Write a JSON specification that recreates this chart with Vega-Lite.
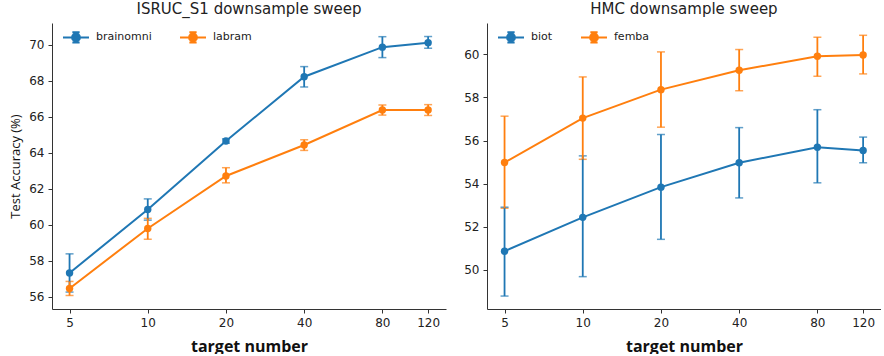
{
  "$schema": "https://vega.github.io/schema/vega-lite/v6.json",
  "background": "white",
  "padding": {"left": 9, "top": 2, "right": 0, "bottom": 0},
  "datasets": {
    "isruc": [
      {"model": "brainomni", "target": 5, "acc": 57.33, "lo": 56.27, "hi": 58.39},
      {"model": "brainomni", "target": 10, "acc": 60.85, "lo": 60.26, "hi": 61.44},
      {"model": "brainomni", "target": 20, "acc": 64.65, "lo": 64.53, "hi": 64.77},
      {"model": "brainomni", "target": 40, "acc": 68.22, "lo": 67.65, "hi": 68.78},
      {"model": "brainomni", "target": 80, "acc": 69.86, "lo": 69.28, "hi": 70.44},
      {"model": "brainomni", "target": 120, "acc": 70.11, "lo": 69.8, "hi": 70.45},
      {"model": "labram", "target": 5, "acc": 56.47, "lo": 56.08, "hi": 56.86},
      {"model": "labram", "target": 10, "acc": 59.8, "lo": 59.2, "hi": 60.36},
      {"model": "labram", "target": 20, "acc": 62.71, "lo": 62.33, "hi": 63.17},
      {"model": "labram", "target": 40, "acc": 64.43, "lo": 64.13, "hi": 64.72},
      {"model": "labram", "target": 80, "acc": 66.37, "lo": 66.09, "hi": 66.65},
      {"model": "labram", "target": 120, "acc": 66.37, "lo": 66.07, "hi": 66.67}
    ],
    "hmc": [
      {"model": "biot", "target": 5, "acc": 50.87, "lo": 48.79, "hi": 52.91},
      {"model": "biot", "target": 10, "acc": 52.44, "lo": 49.69, "hi": 55.29},
      {"model": "biot", "target": 20, "acc": 53.84, "lo": 51.42, "hi": 56.28},
      {"model": "biot", "target": 40, "acc": 54.97, "lo": 53.34, "hi": 56.6},
      {"model": "biot", "target": 80, "acc": 55.69, "lo": 54.04, "hi": 57.43},
      {"model": "biot", "target": 120, "acc": 55.54, "lo": 54.97, "hi": 56.16},
      {"model": "femba", "target": 5, "acc": 54.98, "lo": 52.86, "hi": 57.13},
      {"model": "femba", "target": 10, "acc": 57.04, "lo": 55.13, "hi": 58.95},
      {"model": "femba", "target": 20, "acc": 58.36, "lo": 56.62, "hi": 60.11},
      {"model": "femba", "target": 40, "acc": 59.26, "lo": 58.31, "hi": 60.22},
      {"model": "femba", "target": 80, "acc": 59.91, "lo": 58.98, "hi": 60.79},
      {"model": "femba", "target": 120, "acc": 59.97, "lo": 59.09, "hi": 60.88}
    ]
  },
  "spacing": 17,
  "hconcat": [
    {
      "width": 394,
      "height": 286,
      "title": "ISRUC_S1 downsample sweep",
      "data": {"name": "isruc"},
      "encoding": {
        "x": {"field": "target", "type": "quantitative", "scale": {"type": "log", "domain": [4.28, 140.6], "nice": false}, "axis": {"values": [5, 10, 20, 40, 80, 120], "format": "d", "title": "target number"}},
        "color": {"field": "model", "type": "nominal", "scale": {"domain": ["brainomni", "labram"], "range": ["#1f77b4", "#ff7f0e"]}, "legend": {"title": null}}
      },
      "layer": [
        {
          "mark": {"type": "errorbar", "ticks": {"size": 8, "thickness": 1.5}, "thickness": 1.8},
          "encoding": {
            "y": {"field": "lo", "type": "quantitative", "scale": {"domain": [55.33, 71.2], "nice": false, "zero": false}, "axis": {"values": [56, 58, 60, 62, 64, 66, 68, 70], "title": "Test Accuracy (%)"}},
            "y2": {"field": "hi"}
          }
        },
        {
          "mark": {"type": "line", "strokeWidth": 2},
          "encoding": {"y": {"field": "acc", "type": "quantitative", "axis": {"values": [56, 58, 60, 62, 64, 66, 68, 70], "title": "Test Accuracy (%)"}}}
        },
        {
          "mark": {"type": "point", "filled": true, "size": 55, "opacity": 1},
          "encoding": {"y": {"field": "acc", "type": "quantitative", "axis": {"values": [56, 58, 60, 62, 64, 66, 68, 70], "title": "Test Accuracy (%)"}}}
        }
      ]
    },
    {
      "width": 394,
      "height": 286,
      "title": "HMC downsample sweep",
      "data": {"name": "hmc"},
      "encoding": {
        "x": {"field": "target", "type": "quantitative", "scale": {"type": "log", "domain": [4.28, 140.6], "nice": false}, "axis": {"values": [5, 10, 20, 40, 80, 120], "format": "d", "title": "target number"}},
        "color": {"field": "model", "type": "nominal", "scale": {"domain": ["biot", "femba"], "range": ["#1f77b4", "#ff7f0e"]}, "legend": {"title": null}}
      },
      "layer": [
        {
          "mark": {"type": "errorbar", "ticks": {"size": 8, "thickness": 1.5}, "thickness": 1.8},
          "encoding": {
            "y": {"field": "lo", "type": "quantitative", "scale": {"domain": [48.19, 61.45], "nice": false, "zero": false}, "axis": {"values": [50, 52, 54, 56, 58, 60], "title": null}},
            "y2": {"field": "hi"}
          }
        },
        {
          "mark": {"type": "line", "strokeWidth": 2},
          "encoding": {"y": {"field": "acc", "type": "quantitative", "axis": {"values": [50, 52, 54, 56, 58, 60], "title": null}}}
        },
        {
          "mark": {"type": "point", "filled": true, "size": 55, "opacity": 1},
          "encoding": {"y": {"field": "acc", "type": "quantitative", "axis": {"values": [50, 52, 54, 56, 58, 60], "title": null}}}
        }
      ]
    }
  ],
  "resolve": {
    "scale": {"color": "independent", "x": "independent", "y": "independent"},
    "legend": {"color": "independent"}
  },
  "config": {
    "view": {"stroke": null},
    "title": {"font": "DejaVu Sans", "fontSize": 15, "fontWeight": "normal", "color": "#222", "offset": 6},
    "axis": {
      "grid": false,
      "domainColor": "#333",
      "tickColor": "#333",
      "tickSize": 4,
      "labelFont": "DejaVu Sans",
      "labelFontSize": 12,
      "labelColor": "#222",
      "titleFont": "Open Sans",
      "titleColor": "#111"
    },
    "axisX": {"titleFontSize": 16, "titleFontWeight": "bold", "titlePadding": 10, "labelPadding": 4},
    "axisY": {"titleFontSize": 13, "titleFontWeight": "normal", "titlePadding": 6, "labelPadding": 4},
    "legend": {
      "orient": "none",
      "legendX": 10,
      "legendY": 0,
      "direction": "horizontal",
      "padding": 0,
      "symbolType": "M-1,0H1M0,-0.4V0.4M-0.28,-0.4H0.28M-0.28,0.4H0.28M-0.3,0A0.3,0.3 0 1,0 0.3,0A0.3,0.3 0 1,0 -0.3,0Z",
      "symbolSize": 676,
      "symbolStrokeWidth": 2,
      "symbolOpacity": 1,
      "labelFont": "DejaVu Sans",
      "labelFontSize": 11,
      "labelColor": "#222",
      "labelOffset": 6,
      "columnPadding": 24,
      "encode": {
        "symbols": {
          "update": {
            "fill": {"signal": "indexof(['brainomni','biot'], datum.value) >= 0 ? '#1f77b4' : '#ff7f0e'"},
            "stroke": {"signal": "indexof(['brainomni','biot'], datum.value) >= 0 ? '#1f77b4' : '#ff7f0e'"},
            "opacity": {"value": 1}
          }
        }
      }
    }
  }
}
